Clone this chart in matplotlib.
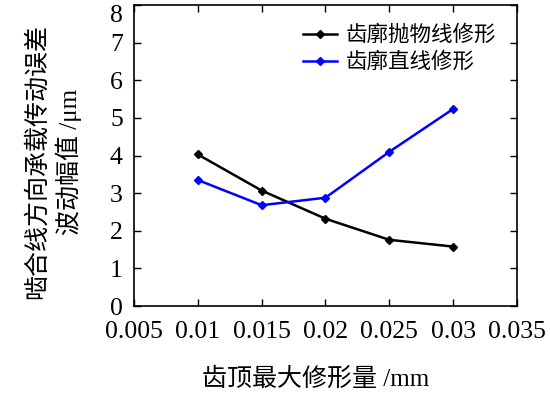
import matplotlib.pyplot as plt
import numpy as np

plt.rcParams['font.family'] = ['Liberation Serif', 'Noto Sans CJK SC']

# 齿顶最大修形量 (mm)
x_mod = [0.01, 0.015, 0.02, 0.025, 0.03]
# 波动幅值 (um)
parabolic = [4.03, 3.07, 2.32, 1.76, 1.58]
linear = [3.35, 2.68, 2.88, 4.10, 5.24]

fig = plt.figure(figsize=(5.5, 3.95), dpi=100)
ax = fig.add_axes([0.2436, 0.2253, 0.6964, 0.7617])

ax.plot(x_mod, parabolic, color='black', lw=1.8, marker='D', ms=4,
        label='齿廓抛物线修形')
ax.plot(x_mod, linear, color='blue', lw=1.8, marker='D', ms=4,
        label='齿廓直线修形')

ax.set_xlim(0.005, 0.035)
ax.set_ylim(0, 8)
ax.set_xticks(np.arange(0.005, 0.0351, 0.005))
ax.set_xticklabels(['0.005', '0.01', '0.015', '0.02', '0.025', '0.03', '0.035'])
ax.set_yticks(range(0, 9))

ax.tick_params(direction='in', top=True, right=True, length=5, width=1,
               labelsize=18.5)
ax.tick_params(axis='x', pad=11)
ax.tick_params(axis='y', pad=8)
ax.get_yticklabels()[-1].set_va('top')
for s in ax.spines.values():
    s.set_linewidth(1.2)

ax.set_xlabel('齿顶最大修形量 /mm', fontsize=18)
ax.xaxis.set_label_coords(0.475, -0.205)
ax.set_ylabel('啮合线方向承载传动误差\n波动幅值 /μm', fontsize=18,
              linespacing=1.3)
ax.yaxis.set_label_coords(-0.136, 0.48)

ax.legend(loc='upper right', frameon=False, fontsize=15.5, handlelength=1.6,
          handletextpad=0.4, labelspacing=0.3, borderaxespad=0.55)

fig.savefig('out.png', dpi=100)
